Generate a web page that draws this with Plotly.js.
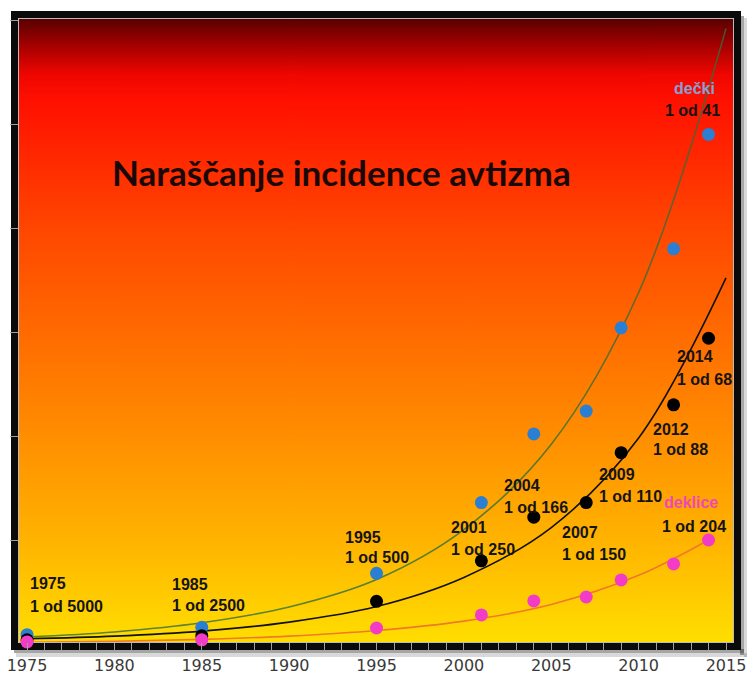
<!DOCTYPE html>
<html><head><meta charset="utf-8">
<script src="https://cdn.plot.ly/plotly-3.0.1.min.js"></script>
<style>html,body{margin:0;padding:0;background:#fff;} #chart{width:748px;height:678px;}</style>
</head><body><div id="chart"></div>
<script>
// ---- data (per 1000 children) ----
const years   = [1975, 1985, 1995, 2001, 2004, 2007, 2009, 2012, 2014];
const overall = [0.2, 0.4, 2.05, 4.0, 6.1, 6.8, 9.2, 11.5, 14.7];
const boys    = [0.45, 0.8, 3.4, 6.8, 10.1, 11.2, 15.2, 19.0, 24.5];
const girls   = [0.1, 0.2, 0.77, 1.4, 2.07, 2.26, 3.08, 3.85, 5.0];

// trend curves
const trendYears        = [1975, 1980, 1985, 1990, 1995, 2000, 2005, 2010, 2015];
const trendBoys         = [0.34, 0.58, 1.02, 1.78, 3.1, 5.5, 9.6, 16.9, 29.6];
const trendOverall      = [0.25, 0.38, 0.62, 1.05, 1.8, 3.2, 5.6, 9.9, 17.6];
const trendGirlsYears   = [1975, 1980, 1985, 1990, 1995, 2000, 2005, 2010, 2014];
const trendGirls        = [0.08, 0.13, 0.22, 0.38, 0.65, 1.1, 1.9, 3.3, 5.0];

const labelYears = ['1975', '1985', '1995', '2001', '2004', '2007', '2009', '2012', '2014'];
const labelRates = ['1 od 5000', '1 od 2500', '1 od 500', '1 od 250', '1 od 166', '1 od 150', '1 od 110', '1 od 88', '1 od 68'];
const seriesNames = ['dečki', 'deklice'];
const seriesRates = ['1 od 41', '1 od 204'];
const titleText = 'Naraščanje incidence avtizma';
const xTickVals = [1975, 1980, 1985, 1990, 1995, 2000, 2005, 2010, 2015];

// ---- layout config (positions, styles) ----
const W = 748, H = 678, ML = 19, MR = 15, MT = 19, MB = 36;
const PW = W - ML - MR, PH = H - MT - MB;
const labelPos = [
  [1975.06, 2.93, 1.78], [1983.18, 2.84, 1.83], [1993.08, 5.14, 4.18],
  [1999.15, 5.58, 4.52], [2002.18, 7.64, 6.54], [2005.5, 5.38, 4.28],
  [2007.62, 8.13, 7.07], [2010.71, 10.29, 9.33], [2012.08, 13.8, 12.74]
];
const seriesPos = [[2011.91, 26.73, 2011.40, 25.67], [2011.34, 6.78, 2011.22, 5.63]];
const seriesColors = ['#86a0d4', '#f048b8'];
const lblFont = {family: 'Liberation Sans, Arial, sans-serif', size: 16, color: '#141414', weight: 'bold'};

// gradient background image
const cv = document.createElement('canvas');
cv.width = 4; cv.height = PH;
const ctx = cv.getContext('2d');
const g = ctx.createLinearGradient(0, 0, 0, PH);
g.addColorStop(0.0, '#5a0000');
g.addColorStop(0.04, '#a00000');
g.addColorStop(0.09, '#f00600');
g.addColorStop(0.13, '#ff1000');
g.addColorStop(0.33, '#ff4500');
g.addColorStop(0.5, '#ff6a00');
g.addColorStop(0.67, '#ff8e00');
g.addColorStop(0.84, '#ffb400');
g.addColorStop(1.0, '#ffde00');
ctx.fillStyle = g; ctx.fillRect(0, 0, 4, PH);
const bgSrc = cv.toDataURL();

const px2x = p => (p - ML) / PW;
const py2y = p => 1 - (p - MT) / PH;

const traces = [
  {x: trendYears, y: trendBoys, mode: 'lines', line: {color: 'rgba(50,110,60,0.8)', width: 1.6, shape: 'spline'}, hoverinfo: 'skip'},
  {x: trendYears, y: trendOverall, mode: 'lines', line: {color: '#111', width: 1.6, shape: 'spline'}, hoverinfo: 'skip'},
  {x: trendGirlsYears, y: trendGirls, mode: 'lines', line: {color: '#ee7a2a', width: 1.6, shape: 'spline'}, hoverinfo: 'skip'},
  {x: years, y: boys, mode: 'markers', marker: {color: '#2a7fd2', size: 13}, cliponaxis: false},
  {x: years, y: overall, mode: 'markers', marker: {color: '#000', size: 13}, cliponaxis: false},
  {x: years, y: girls, mode: 'markers', marker: {color: '#f23cc8', size: 13}, cliponaxis: false}
];

const annotations = [];
annotations.push({x: 1992.97, y: 22.69, xref: 'x', yref: 'y', text: titleText, showarrow: false,
  xanchor: 'center', yanchor: 'middle', font: {family: 'Lato, sans-serif', size: 35, color: '#1a0808', weight: 'bold'}});
labelYears.forEach((t, i) => {
  const p = labelPos[i];
  annotations.push({x: p[0], y: p[1], text: t, showarrow: false, xanchor: 'left', yanchor: 'middle', font: lblFont});
  annotations.push({x: p[0], y: p[2], text: labelRates[i], showarrow: false, xanchor: 'left', yanchor: 'middle', font: lblFont});
});
seriesNames.forEach((t, i) => {
  const p = seriesPos[i];
  annotations.push({x: p[0], y: p[1], text: t, showarrow: false, xanchor: 'left', yanchor: 'middle',
    font: Object.assign({}, lblFont, {color: seriesColors[i]})});
  annotations.push({x: p[2], y: p[3], text: seriesRates[i], showarrow: false, xanchor: 'left', yanchor: 'middle', font: lblFont});
});

const shapes = [
  // shadow right & bottom
  {type: 'rect', xref: 'paper', yref: 'paper', x0: px2x(740), x1: px2x(744), y0: py2y(655), y1: py2y(16), fillcolor: 'rgba(0,0,0,0.35)', line: {width: 0}, layer: 'below'},
  {type: 'rect', xref: 'paper', yref: 'paper', x0: px2x(744), x1: px2x(747), y0: py2y(657), y1: py2y(18), fillcolor: 'rgba(0,0,0,0.15)', line: {width: 0}, layer: 'below'},
  {type: 'rect', xref: 'paper', yref: 'paper', x0: px2x(14), x1: px2x(744), y0: py2y(653), y1: py2y(649), fillcolor: 'rgba(0,0,0,0.35)', line: {width: 0}, layer: 'below'},
  {type: 'rect', xref: 'paper', yref: 'paper', x0: px2x(16), x1: px2x(747), y0: py2y(657), y1: py2y(653), fillcolor: 'rgba(0,0,0,0.15)', line: {width: 0}, layer: 'below'},
  // black frame
  {type: 'rect', xref: 'paper', yref: 'paper', x0: px2x(ML - 4.5), x1: px2x(W - MR + 4.5), y0: py2y(H - MB + 4.5), y1: py2y(MT - 4.5), line: {color: '#0a0a0a', width: 7}, layer: 'below'},
  // light inner edge
  {type: 'rect', xref: 'paper', yref: 'paper', x0: px2x(ML - 0.5), x1: px2x(W - MR + 0.5), y0: py2y(H - MB + 0.5), y1: py2y(MT - 0.5), line: {color: 'rgba(170,170,170,0.8)', width: 1}, layer: 'below'}
];

const layout = {
  width: W, height: H,
  margin: {l: ML, r: MR, t: MT, b: MB, pad: 0},
  paper_bgcolor: '#ffffff', plot_bgcolor: 'rgba(0,0,0,0)',
  showlegend: false, hovermode: false,
  xaxis: {range: [1974.54, 2015.4], tickmode: 'array', tickvals: xTickVals, ticks: 'outside', ticklen: 8, tickwidth: 1,
    tickcolor: '#a0a0a0', showgrid: false, zeroline: false, showline: false,
    minor: {tickmode: 'linear', tick0: 1975, dtick: 1, ticks: 'outside', ticklen: 8, tickcolor: '#a0a0a0', tickwidth: 1, showgrid: false},
    tickfont: {family: 'DejaVu Sans, sans-serif', size: 16, color: '#3a3a3a'}, ticklabelstandoff: 1},
  yaxis: {range: [0.096, 30.05], tickmode: 'linear', tick0: 0, dtick: 5, ticks: 'outside', ticklen: 8, tickwidth: 1,
    tickcolor: '#a0a0a0', showticklabels: false, showgrid: false, zeroline: false, showline: false},
  images: [{source: bgSrc, xref: 'paper', yref: 'paper', x: 0, y: 1, sizex: 1, sizey: 1, sizing: 'stretch',
    xanchor: 'left', yanchor: 'top', layer: 'below'}],
  shapes: shapes,
  annotations: annotations
};

Plotly.newPlot('chart', traces, layout, {displayModeBar: false, staticPlot: true});
</script>
</body></html>
